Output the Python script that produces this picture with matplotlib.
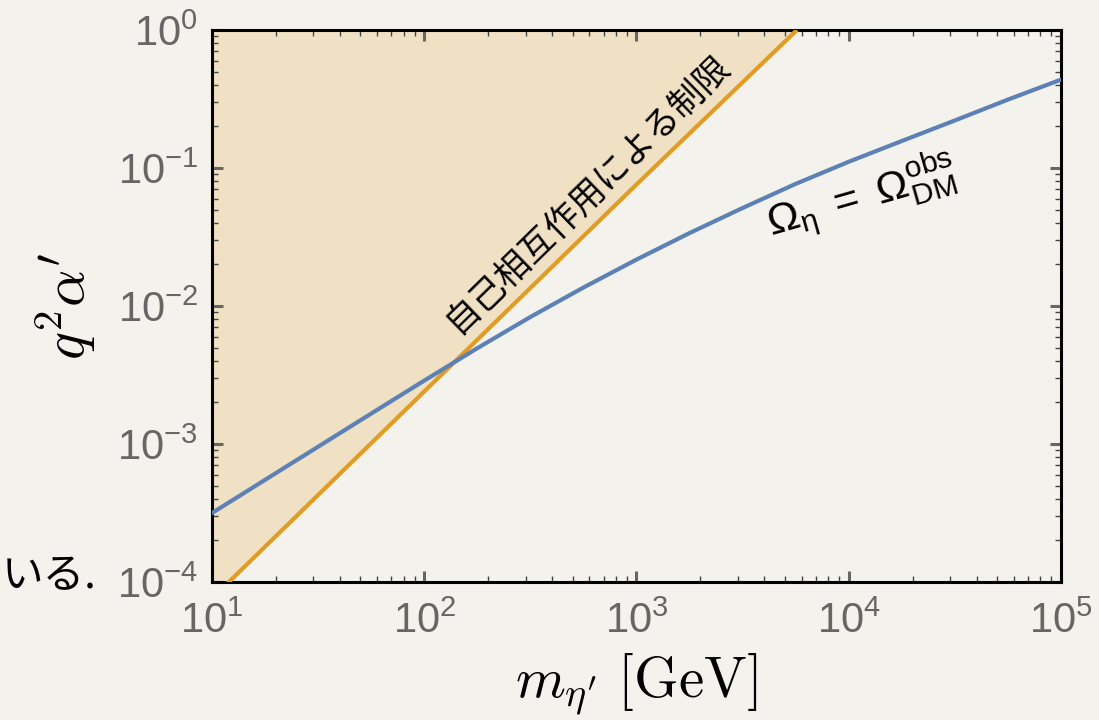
import numpy as np
import matplotlib.pyplot as plt
from matplotlib.ticker import LogLocator, LogFormatterSciNotation, NullFormatter

plt.rcParams['font.family'] = ['Liberation Sans', 'Noto Sans CJK JP', 'DejaVu Sans']
plt.rcParams['mathtext.fontset'] = 'custom'
plt.rcParams['mathtext.rm'] = 'Liberation Sans'
plt.rcParams['mathtext.it'] = 'Liberation Sans'
plt.rcParams['mathtext.bf'] = 'Liberation Sans:bold'

# 自己相互作用による制限 (直線, 傾き ~1.5)
m_self = [10, 100, 1000, 5700]
a_self = [7.6e-5, 2.4e-3, 7.6e-2, 1.0]

# Omega_eta = Omega_DM^obs
m_relic = [10, 17.8, 31.6, 56.2, 100, 178, 316, 562, 1000, 1780, 3160,
           5620, 1e4, 1.78e4, 3.16e4, 5.62e4, 1e5]
a_relic = [3.16e-4, 5.50e-4, 9.55e-4, 1.66e-3, 2.88e-3, 4.95e-3, 8.32e-3,
           1.36e-2, 2.17e-2, 3.38e-2, 5.13e-2, 7.67e-2, 0.111, 0.157,
           0.221, 0.313, 0.437]

xlim = (10, 1e5)
ylim = (1e-4, 1)

paper = '#f4f2ed'
fill_col = '#f0e1c4'
orange = '#e19c24'
blue = '#5e81b5'
gray = '#666666'

fig = plt.figure(figsize=(10.99, 7.2), dpi=100, facecolor=paper)
ax = fig.add_axes([0.1929, 0.1917, 0.7725, 0.7666])
ax.set_facecolor(paper)
ax.set_xscale('log')
ax.set_yscale('log')
ax.set_xlim(*xlim)
ax.set_ylim(*ylim)

ax.fill_between(m_self, a_self, 1, color=fill_col, lw=0, zorder=1)
ax.plot(m_self, a_self, color=orange, lw=3, zorder=3, solid_capstyle='butt')
ax.plot(m_relic, a_relic, color=blue, lw=3, zorder=4)

for s in ax.spines.values():
    s.set_linewidth(2.2)
    s.set_color('black')

ax.xaxis.set_major_locator(LogLocator(base=10, numticks=10))
ax.yaxis.set_major_locator(LogLocator(base=10, numticks=10))
ax.xaxis.set_minor_locator(LogLocator(base=10, subs=np.arange(2, 10), numticks=10))
ax.yaxis.set_minor_locator(LogLocator(base=10, subs=np.arange(2, 10), numticks=10))
ax.xaxis.set_major_formatter(LogFormatterSciNotation())
ax.yaxis.set_major_formatter(LogFormatterSciNotation())
ax.xaxis.set_minor_formatter(NullFormatter())
ax.yaxis.set_minor_formatter(NullFormatter())

ax.tick_params(which='major', direction='in', length=8, width=2.2, color=gray,
               top=True, right=True, labelsize=30, labelcolor=gray)
ax.tick_params(axis='x', which='major', pad=14)
ax.tick_params(axis='y', which='major', pad=10)
ax.tick_params(which='minor', direction='in', length=4, width=1, color='#444444',
               top=True, right=True)

ax.set_xlabel(r"$m_{\eta'}\ [\mathrm{GeV}]$", fontsize=41, math_fontfamily='cm',
              labelpad=7)
ax.set_ylabel(r"$q^2\alpha'$", fontsize=42, math_fontfamily='cm', labelpad=14)

ax.text(585, 0.066, '自己相互作用による制限', fontsize=25, rotation=44.3,
        rotation_mode='anchor', ha='center', va='center',
        family=['Noto Sans CJK JP', 'DejaVu Sans'], zorder=5)
ax.text(11500, 0.062, r'$\Omega_\eta\ =\ \Omega^{\mathrm{obs}}_{\mathrm{DM}}$',
        fontsize=31, rotation=16, rotation_mode='anchor', ha='center',
        va='center', zorder=5)

fig.text(0.002, 0.183, 'いる.', fontsize=30, ha='left', va='baseline',
         family=['Noto Sans CJK JP', 'DejaVu Sans'])

fig.savefig('out.png', dpi=100, facecolor=paper)
